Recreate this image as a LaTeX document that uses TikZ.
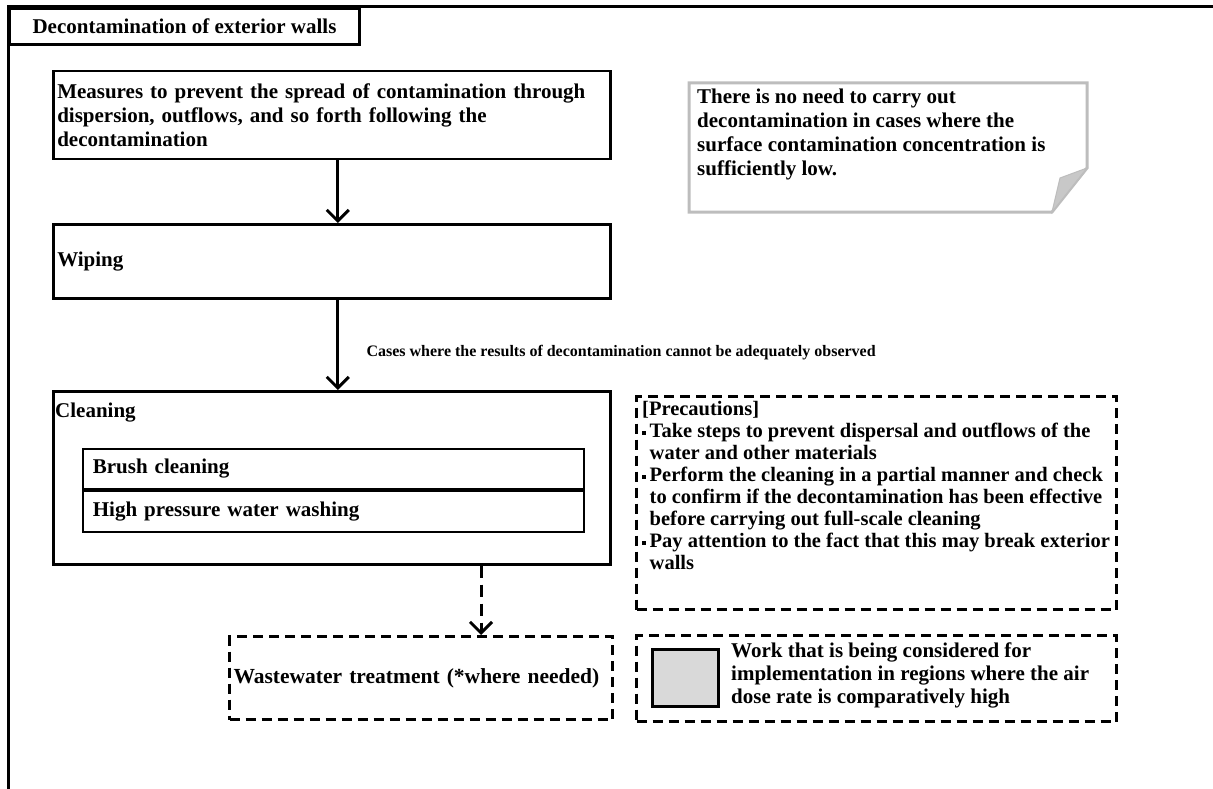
\documentclass[tikz,border=0pt]{standalone}
\usepackage{fontspec}
\setmainfont{Liberation Serif}
\usepackage{tikz}
\usetikzlibrary{arrows.meta}
\definecolor{gray200}{HTML}{D9D9D9}
\definecolor{gray250}{HTML}{C8C8C8}
\definecolor{gray300}{HTML}{BDBDBD}
\newcommand{\boxfont}{\bfseries\fontsize{21}{24}\selectfont}
\newcommand{\dotmark}{\rule[0.3ex]{3.5pt}{3.5pt}\hspace{4pt}}
\tikzstyle{stepbox}=[rectangle, draw=black, line width=2.5pt, anchor=north west, inner xsep=4pt, align=left, font=\boxfont]
\tikzstyle{subbox}=[stepbox, line width=1.8pt, inner xsep=10pt, text width=481pt, minimum height=40pt]
\tikzstyle{dashbox}=[stepbox, line width=3pt, dash pattern=on 10pt off 6pt]
\tikzstyle{plain}=[anchor=north west, inner sep=3pt, align=left, font=\boxfont]
\tikzstyle{flow}=[line width=3pt, -{Straight Barb[length=11pt,width=22pt,line width=3pt]}]

\begin{document}
\begin{tikzpicture}[x=1pt, y=-1pt]
				\useasboundingbox (0,0) rectangle (1213,789);
				% frame and heading
				\draw[line width=3pt] (8,789) -- (8,7) -- (1213,7);
				\node[stepbox, line width=3pt, minimum width=350pt, minimum height=36pt, align=center] (title) at (8,7) {Decontamination of exterior walls};
				% main steps
				\node[stepbox, text width=549pt, minimum height=88pt] (measures) at (52,70) {Measures to prevent the spread of contamination through\\dispersion, outflows, and so forth following the\\decontamination};
				\node[stepbox, text width=549pt, minimum height=74pt] (wiping) at (52,223) {Wiping};
				\node[stepbox, text width=549pt, minimum height=173pt] (cleaning) at (52,390) {};
				\node[plain] (cleanlabel) at (52,400) {Cleaning};
				\node[subbox] (brush) at (82,448) {Brush cleaning};
				\node[subbox, minimum height=41pt] (washing) at (brush.south west) {High pressure water washing};
				\coordinate (wastein) at (481,635);
				\node[dashbox, text width=375pt, minimum height=83pt, font=\bfseries\fontsize{21.5}{24}\selectfont] (waste) at (228,635) {Wastewater treatment (*where needed)};
				% note with folded corner
				\draw[gray300, line width=3pt, fill=white] (689,83) -- (1087,83) -- (1087,168) -- (1052,212) -- (689,212) -- cycle;
				\draw[gray300, line width=1pt, fill=gray250] (1052,212) -- (1060,178) -- (1087,168) -- cycle;
				\node[plain] (notetext) at (694,86) {There is no need to carry out\\decontamination in cases where the\\surface contamination concentration is\\sufficiently low.};
				% precautions
				\node[dashbox, minimum width=480pt, minimum height=213pt] (precbox) at (635,395) {};
				\node[plain, font=\bfseries\fontsize{20.5}{22}\selectfont] (prectext) at (639,398) {[Precautions]\\
					\dotmark Take steps to prevent dispersal and outflows of the\\
					\phantom{\dotmark}water and other materials\\
					\dotmark Perform the cleaning in a partial manner and check\\
					\phantom{\dotmark}to confirm if the decontamination has been effective\\
					\phantom{\dotmark}before carrying out full-scale cleaning\\
					\dotmark Pay attention to the fact that this may break exterior\\
					\phantom{\dotmark}walls};
				% legend
				\node[dashbox, minimum width=480pt, minimum height=86pt] (legend) at (635,634) {};
				\node[stepbox, fill=gray200, minimum width=66pt, minimum height=57pt] (shade) at (651,648) {};
				\node[plain, anchor=west, font=\bfseries\fontsize{21}{23}\selectfont] (legendtext) at (728,675) {Work that is being considered for\\implementation in regions where the air\\dose rate is comparatively high};
				% flow
				\draw[flow] ([xshift=6pt]measures.south) -- ([xshift=6pt]wiping.north);
				\draw[flow] ([xshift=6pt]wiping.south)
					-- node[pos=0.59, anchor=west, xshift=24pt, font=\bfseries\fontsize{16}{18}\selectfont]{Cases where the results of decontamination cannot be adequately observed}
					([xshift=6pt]cleaning.north);
				\draw[flow, dash pattern=on 12pt off 7pt] (cleaning.south -| wastein) -- (wastein);
			\end{tikzpicture}
\end{document}
